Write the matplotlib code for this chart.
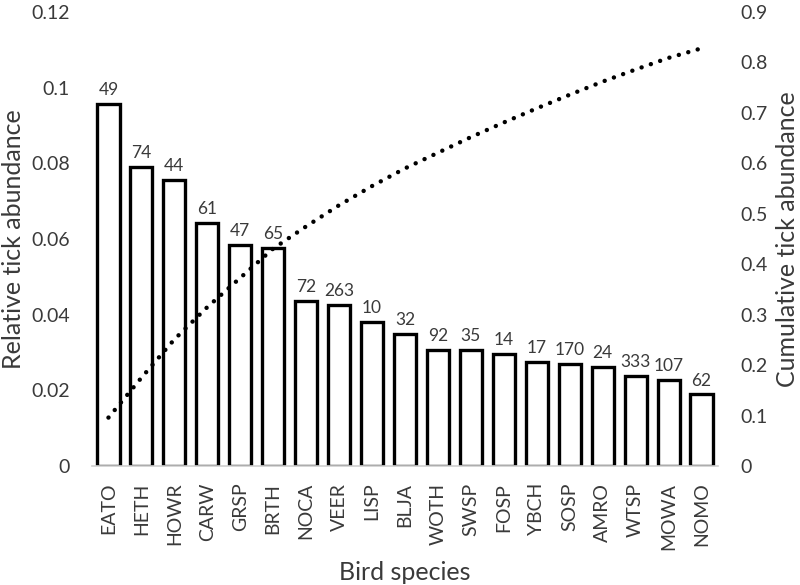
import matplotlib
matplotlib.use("Agg")
import matplotlib.pyplot as plt

# ─── Dados ────────────────────────────────────────────────
especies = ["EATO", "HETH", "HOWR", "CARW", "GRSP", "BRTH", "NOCA", "VEER", "LISP", "BLJA",
            "WOTH", "SWSP", "FOSP", "YBCH", "SOSP", "AMRO", "WTSP", "MOWA", "NOMO"]
abund_rel = [0.0958, 0.0791, 0.0757, 0.0643, 0.0585, 0.0577, 0.0436, 0.0426, 0.0381, 0.0350,
             0.0307, 0.0307, 0.0296, 0.0275, 0.0270, 0.0262, 0.0238, 0.0228, 0.0190]
abund_cum = [0.096, 0.175, 0.251, 0.315, 0.373, 0.431, 0.475, 0.517, 0.555, 0.590,
             0.621, 0.652, 0.681, 0.709, 0.736, 0.762, 0.786, 0.809, 0.828]
n_aves = [49, 74, 44, 61, 47, 65, 72, 263, 10, 32, 92, 35, 14, 17, 170, 24, 333, 107, 62]

plt.rcParams["font.family"] = ["Lato", "DejaVu Sans"]
COR_TXT = "#3a3a3a"

fig = plt.figure(figsize=(8, 5.85), dpi=100)
ax = fig.add_axes([0.115, 0.2034, 0.7825, 0.7761])

x = list(range(len(especies)))
ax.bar(x, abund_rel, width=0.67, color="white", edgecolor="black", linewidth=2.4, zorder=2)
for xi, v, n in zip(x, abund_rel, n_aves):
    ax.annotate(str(n), (xi, v), xytext=(0, 4), textcoords="offset points",
                ha="center", va="bottom", fontsize=12.5, color=COR_TXT)

ax.set_xlim(-0.5, len(especies) - 0.5)
ax.set_ylim(0, 0.12)
ax.set_yticks([0, 0.02, 0.04, 0.06, 0.08, 0.1, 0.12])
ax.set_yticklabels(["0", "0.02", "0.04", "0.06", "0.08", "0.1", "0.12"])
ax.set_xticks(x)
ax.set_xticklabels(especies, rotation=90)
ax.tick_params(axis="y", length=0, pad=16, labelsize=14, labelcolor=COR_TXT)
ax.tick_params(axis="x", length=0, pad=12, labelsize=14, labelcolor=COR_TXT)
for s in ["top", "right", "left"]:
    ax.spines[s].set_visible(False)
ax.spines["bottom"].set_color("#d0d0d0")
ax.spines["bottom"].set_linewidth(1.2)
ax.set_ylabel("Relative tick abundance", fontsize=18, color=COR_TXT, labelpad=4)
ax.set_xlabel("Bird species", fontsize=18, color=COR_TXT, labelpad=8)

ax2 = ax.twinx()
ax2.plot(x, abund_cum, color="black", linewidth=3.2, linestyle=(0, (0.01, 2.2)),
         dash_capstyle="round", zorder=3)
ax2.set_ylim(0, 0.9)
ax2.set_yticks([0, 0.1, 0.2, 0.3, 0.4, 0.5, 0.6, 0.7, 0.8, 0.9])
ax2.set_yticklabels(["0", "0.1", "0.2", "0.3", "0.4", "0.5", "0.6", "0.7", "0.8", "0.9"])
ax2.tick_params(axis="y", length=0, pad=16, labelsize=14, labelcolor=COR_TXT)
for s in ["top", "right", "left", "bottom"]:
    ax2.spines[s].set_visible(False)
ax2.set_ylabel("Cumulative tick abundance", fontsize=18, color=COR_TXT, labelpad=6)

fig.savefig("out.png", dpi=100)
